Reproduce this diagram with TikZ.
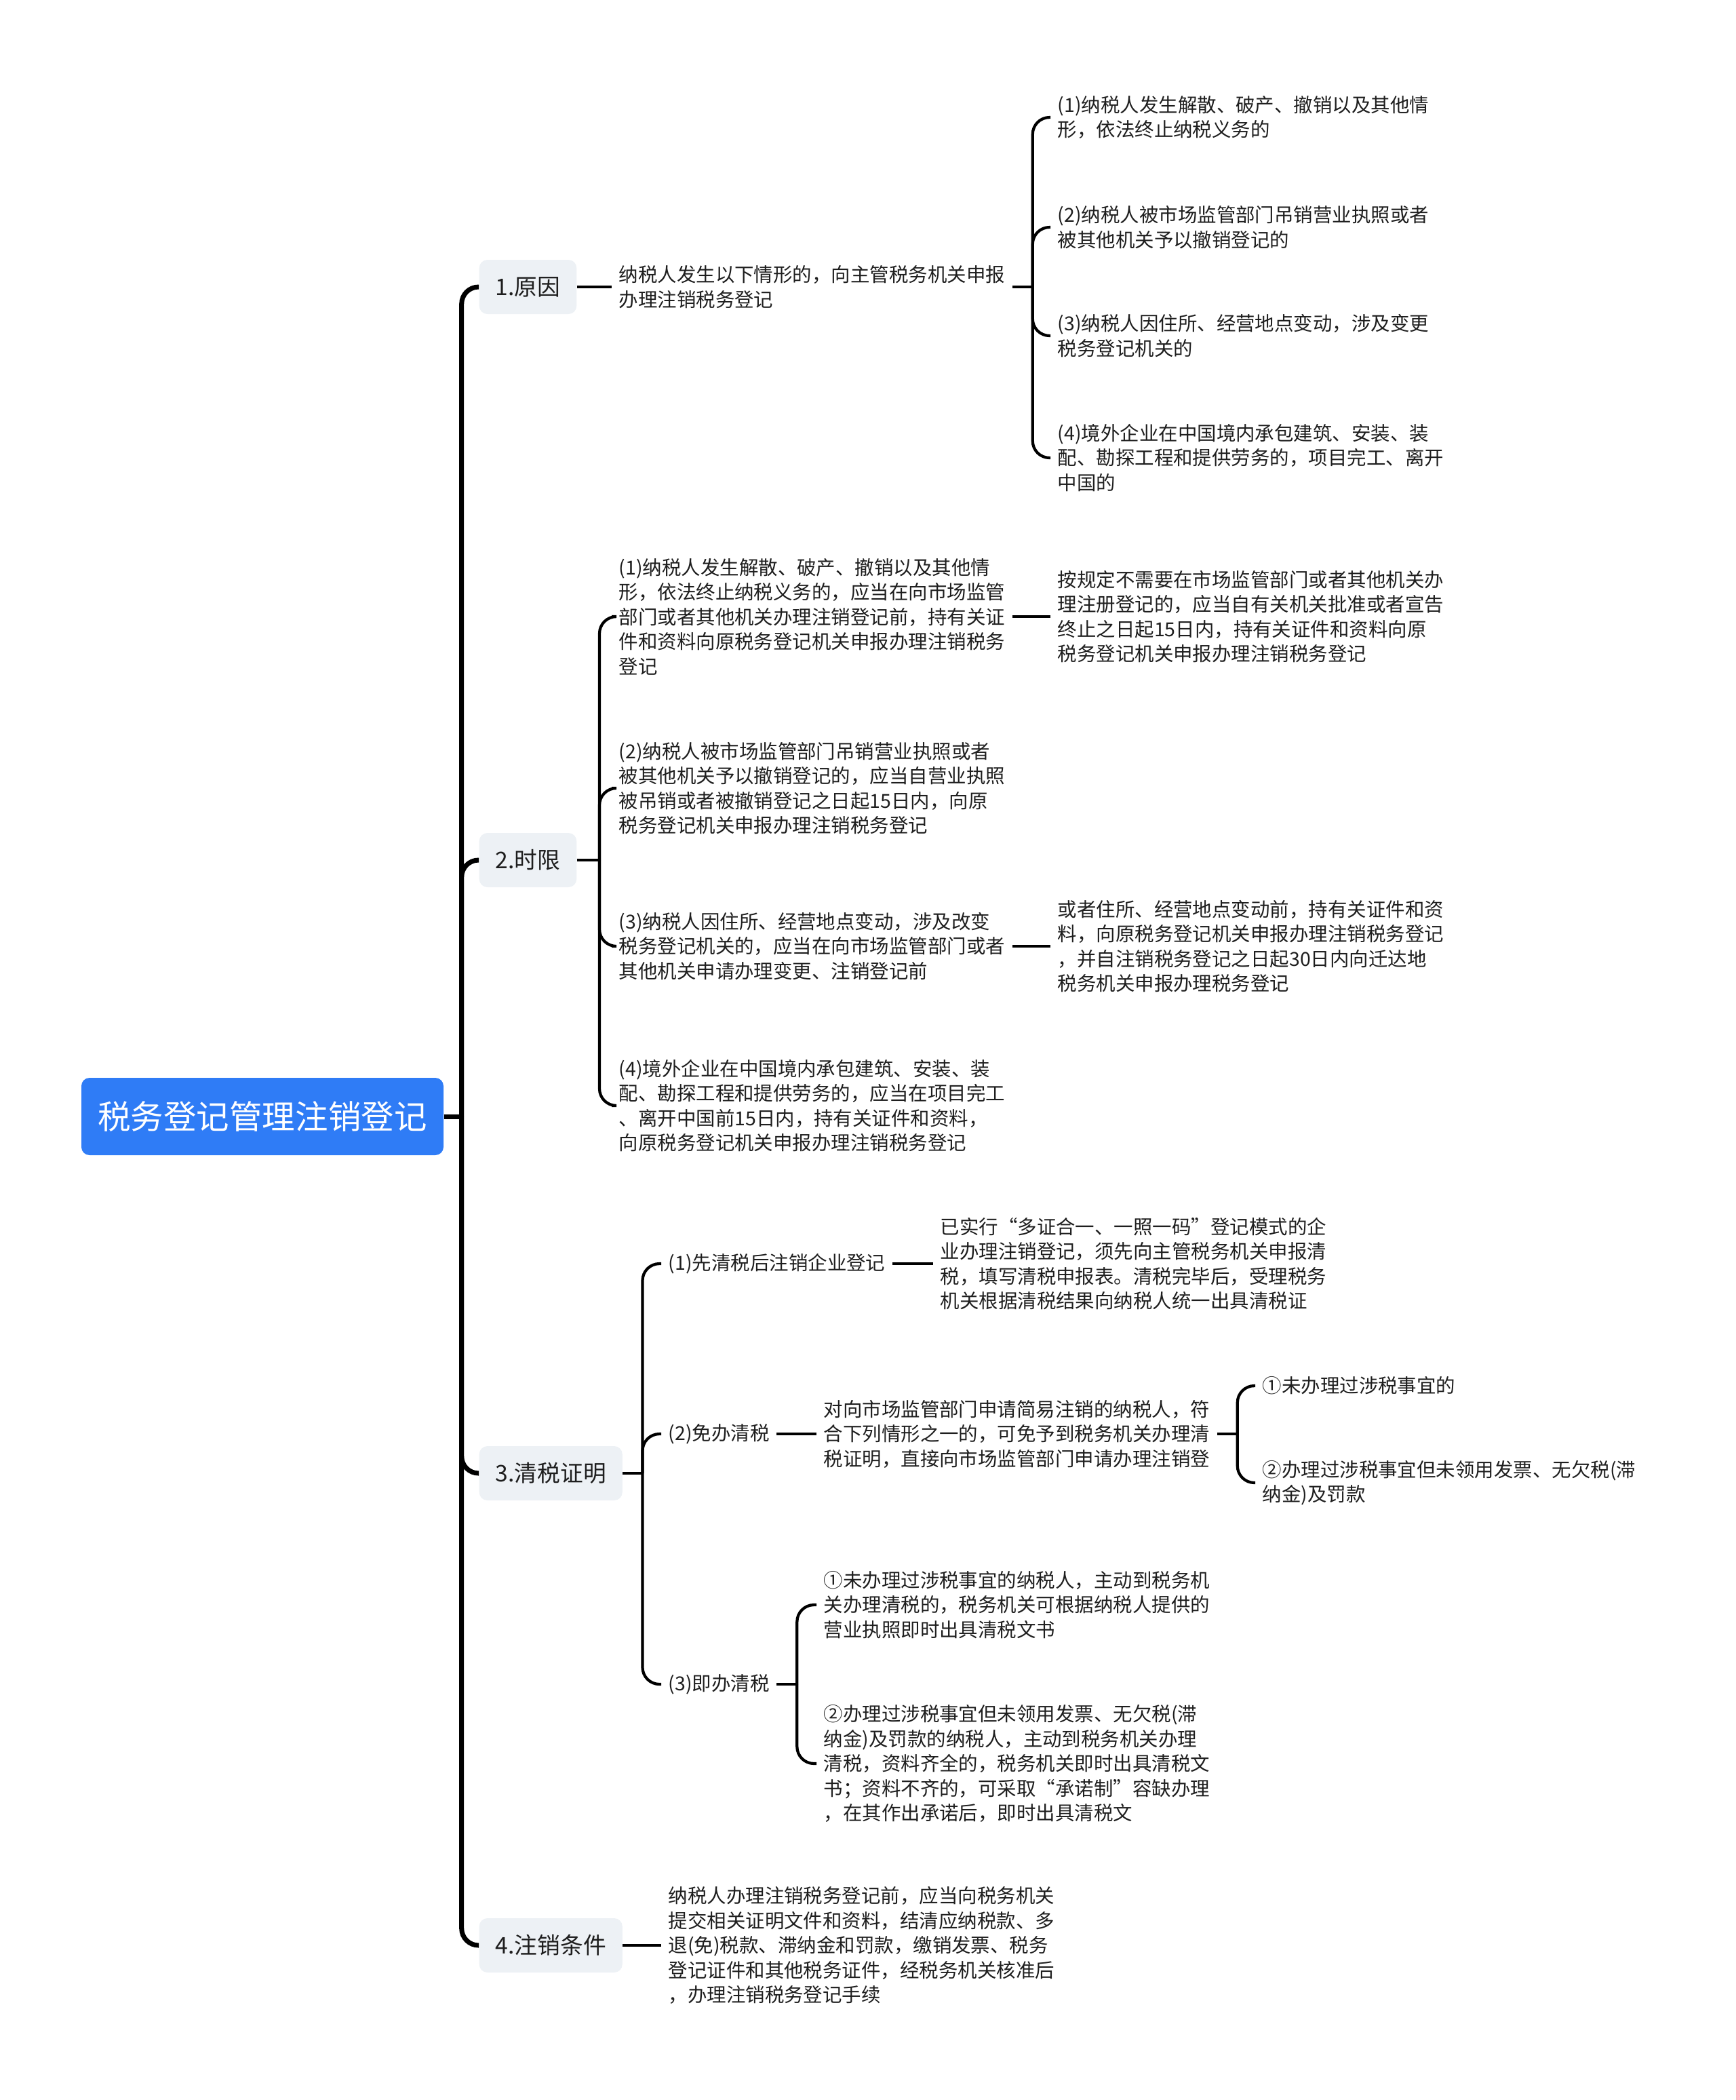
\documentclass[tikz,border=0pt]{standalone}
\usepackage{fontspec}
\setmainfont{Noto Sans CJK SC}
\usepackage{tikz}
\usetikzlibrary{positioning, calc}
\definecolor{rootblue}{HTML}{2F7CF6}
\definecolor{topicgray}{HTML}{EDF1F5}
\definecolor{inkgray}{HTML}{1E1E1E}

\begin{document}
\begin{tikzpicture}[
  central/.style={fill=rootblue, text=white, rounded corners=0.12cm, minimum width=5.34cm, minimum height=1.14cm, font=\fontsize{13.8pt}{16pt}\selectfont},
  topic/.style={fill=topicgray, text=inkgray, rounded corners=0.12cm, anchor=west, minimum height=0.8cm, inner xsep=0.24cm, font=\fontsize{9.6pt}{11pt}\selectfont},
  leaf/.style={anchor=west, align=left, text=inkgray, inner sep=0.1cm, font=\fontsize{8.1pt}{10.4pt}\selectfont},
  mainline/.style={line width=2pt, rounded corners=0.25cm},
  subline/.style={line width=1.2pt, rounded corners=0.25cm},
]
\useasboundingbox (0,0) rectangle (25.6,-30.96);

% Root and main topics
\node[central] (center) at (3.87,-16.46) {税务登记管理注销登记};
\node[topic] (c1) at (7.06,-4.23) {1.原因};
\node[topic] (c2) at (7.06,-12.68) {2.时限};
\node[topic] (c3) at (7.06,-21.72) {3.清税证明};
\node[topic] (c4) at (7.06,-28.68) {4.注销条件};

\coordinate[right=0.26cm of center] (jt);
\draw[mainline] (center) -- (jt);
\foreach \c in {c1,c2,c3,c4}{ \draw[mainline] (jt) |- (\c.west); }

% 1. reasons
\node[leaf] (a0) at (9.02,-4.23) {纳税人发生以下情形的，向主管税务机关申报\\办理注销税务登记};
\node[leaf] (a1) at (15.49,-1.73) {(1)纳税人发生解散、破产、撤销以及其他情\\形，依法终止纳税义务的};
\node[leaf] (a2) at (15.49,-3.35) {(2)纳税人被市场监管部门吊销营业执照或者\\被其他机关予以撤销登记的};
\node[leaf] (a3) at (15.49,-4.95) {(3)纳税人因住所、经营地点变动，涉及变更\\税务登记机关的};
\node[leaf] (a4) at (15.49,-6.75) {(4)境外企业在中国境内承包建筑、安装、装\\配、勘探工程和提供劳务的，项目完工、离开\\中国的};
\draw[subline] (c1.east) -- (a0.west);
\coordinate[right=0.3cm of a0] (j1);
\draw[subline] (a0.east) -- (j1);
\foreach \n in {a1,a2,a3,a4}{ \draw[subline] (j1) |- (\n.west); }

% 2. time limits
\node[leaf] (b1) at (9.02,-9.09) {(1)纳税人发生解散、破产、撤销以及其他情\\形，依法终止纳税义务的，应当在向市场监管\\部门或者其他机关办理注销登记前，持有关证\\件和资料向原税务登记机关申报办理注销税务\\登记};
\node[leaf] (b2) at (9.02,-11.62) {(2)纳税人被市场监管部门吊销营业执照或者\\被其他机关予以撤销登记的，应当自营业执照\\被吊销或者被撤销登记之日起15日内，向原\\税务登记机关申报办理注销税务登记};
\node[leaf] (b3) at (9.02,-13.95) {(3)纳税人因住所、经营地点变动，涉及改变\\税务登记机关的，应当在向市场监管部门或者\\其他机关申请办理变更、注销登记前};
\node[leaf] (b4) at (9.02,-16.30) {(4)境外企业在中国境内承包建筑、安装、装\\配、勘探工程和提供劳务的，应当在项目完工\\、离开中国前15日内，持有关证件和资料，\\向原税务登记机关申报办理注销税务登记};
\node[leaf] (b1r) at (15.49,-9.09) {按规定不需要在市场监管部门或者其他机关办\\理注册登记的，应当自有关机关批准或者宣告\\终止之日起15日内，持有关证件和资料向原\\税务登记机关申报办理注销税务登记};
\node[leaf] (b3r) at (15.49,-13.95) {或者住所、经营地点变动前，持有关证件和资\\料，向原税务登记机关申报办理注销税务登记\\，并自注销税务登记之日起30日内向迁达地\\税务机关申报办理税务登记};
\coordinate[right=0.33cm of c2] (j2);
\draw[subline] (c2.east) -- (j2);
\foreach \n in {b1,b2,b3,b4}{ \draw[subline] (j2) |- (\n.west); }
\draw[subline] (b1.east) -- (b1r.west);
\draw[subline] (b3.east) -- (b3r.west);

% 3. tax clearance
\node[leaf] (d1) at (9.75,-18.63) {(1)先清税后注销企业登记};
\node[leaf] (d2) at (9.75,-21.14) {(2)免办清税};
\node[leaf] (d3) at (9.75,-24.83) {(3)即办清税};
\node[leaf] (e1) at (13.76,-18.63) {已实行“多证合一、一照一码”登记模式的企\\业办理注销登记，须先向主管税务机关申报清\\税，填写清税申报表。清税完毕后，受理税务\\机关根据清税结果向纳税人统一出具清税证};
\node[leaf] (e2) at (12.04,-21.14) {对向市场监管部门申请简易注销的纳税人，符\\合下列情形之一的，可免予到税务机关办理清\\税证明，直接向市场监管部门申请办理注销登};
\node[leaf] (f1) at (18.51,-20.43) {①未办理过涉税事宜的};
\node[leaf] (f2) at (18.51,-21.86) {②办理过涉税事宜但未领用发票、无欠税(滞\\纳金)及罚款};
\node[leaf] (g1) at (12.04,-23.66) {①未办理过涉税事宜的纳税人，主动到税务机\\关办理清税的，税务机关可根据纳税人提供的\\营业执照即时出具清税文书};
\node[leaf] (g2) at (12.04,-26.00) {②办理过涉税事宜但未领用发票、无欠税(滞\\纳金)及罚款的纳税人，主动到税务机关办理\\清税，资料齐全的，税务机关即时出具清税文\\书；资料不齐的，可采取“承诺制”容缺办理\\，在其作出承诺后，即时出具清税文};
\coordinate[right=0.29cm of c3] (j3);
\draw[subline] (c3.east) -- (j3);
\foreach \n in {d1,d2,d3}{ \draw[subline] (j3) |- (\n.west); }
\draw[subline] (d1.east) -- (e1.west);
\draw[subline] (d2.east) -- (e2.west);
\coordinate[right=0.3cm of e2] (j4);
\draw[subline] (e2.east) -- (j4);
\foreach \n in {f1,f2}{ \draw[subline] (j4) |- (\n.west); }
\coordinate[right=0.3cm of d3] (j5);
\draw[subline] (d3.east) -- (j5);
\foreach \n in {g1,g2}{ \draw[subline] (j5) |- (\n.west); }

% 4. conditions
\node[leaf] (h1) at (9.75,-28.68) {纳税人办理注销税务登记前，应当向税务机关\\提交相关证明文件和资料，结清应纳税款、多\\退(免)税款、滞纳金和罚款，缴销发票、税务\\登记证件和其他税务证件，经税务机关核准后\\，办理注销税务登记手续};
\draw[subline] (c4.east) -- (h1.west);
\end{tikzpicture}
\end{document}
